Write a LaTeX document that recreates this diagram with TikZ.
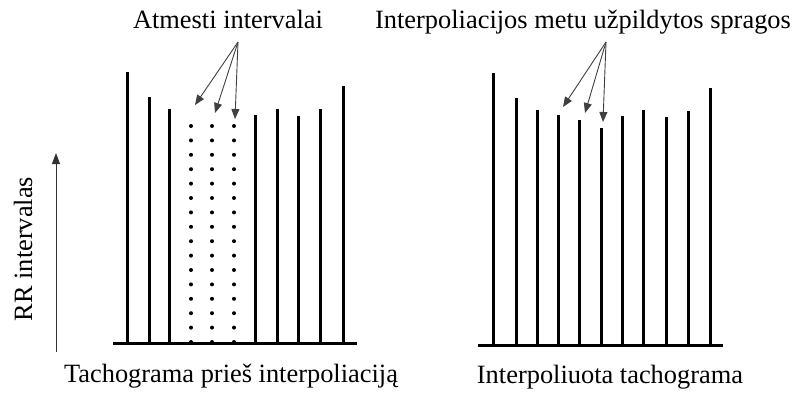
\documentclass[tikz,border=0pt]{standalone}
\usepackage{fontspec}
\setmainfont{Liberation Serif}
\usetikzlibrary{arrows.meta}
\begin{document}
\begin{tikzpicture}[x=1bp,y=-1bp,
  bar/.style={line width=3bp, black},
  base/.style={line width=3bp, black},
  pointer/.style={line width=0.9bp, black!75, -{Triangle[length=10bp,width=8bp]}},
  lbl/.style={font=\fontsize{26.5}{28}\selectfont, inner sep=0pt},
  dotc/.style={fill=black, draw=none}
]
\useasboundingbox (0,0) rectangle (799,392);
% left panel
\coordinate (lb1) at (113,343); \coordinate (lb2) at (357,343);
\draw[base] (lb1) -- (lb2);
\foreach \x/\t in {127/72,149/97,169/109,255/115,277/109,298/116,320/109,343/86}{
  \draw[bar] (\x,343) -- (\x,\t);
}
\foreach \x in {191,212,234}{
  \foreach \k in {0,...,15}{
    \fill[dotc] (\x,{126+\k*14.4}) circle (2bp);
  }
}
% right panel
\coordinate (rb1) at (478,345); \coordinate (rb2) at (723,345);
\draw[base] (rb1) -- (rb2);
\foreach \x/\t in {493/73,516/98,537/110,558/115,579/120,601/128,622/116,643/110,666/117,688/111,710/88}{
  \draw[bar] (\x,345) -- (\x,\t);
}
% y axis
\coordinate (ya) at (56,352); \coordinate (yb) at (56,153);
\draw[line width=0.9bp, black!80, -{Triangle[length=11bp,width=8bp]}] (ya) -- (yb);
\node[lbl, rotate=90, anchor=base] (ylab) at (32,249) {RR intervalas};
% titles
\node[lbl, anchor=base] (t1) at (228,28) {Atmesti intervalai};
\node[lbl, anchor=base] (t2) at (583,28) {Interpoliacijos metu užpildytos spragos};
\node[lbl, anchor=base] (b1) at (231,382) {Tachograma prieš interpoliaciją};
\node[lbl, anchor=base] (b2) at (610,383) {Interpoliuota tachograma};
% pointers left
\coordinate (sl) at (238,42);
\coordinate (la) at (195,105); \coordinate (lbb) at (215,113); \coordinate (lc) at (235,119);
\draw[pointer] (sl) -- (la);
\draw[pointer] (sl) -- (lbb);
\draw[pointer] (sl) -- (lc);
% pointers right
\coordinate (sr) at (606,42);
\coordinate (ra) at (563,107); \coordinate (rbb) at (585,113); \coordinate (rc) at (603,122);
\draw[pointer] (sr) -- (ra);
\draw[pointer] (sr) -- (rbb);
\draw[pointer] (sr) -- (rc);
\end{tikzpicture}
\end{document}
